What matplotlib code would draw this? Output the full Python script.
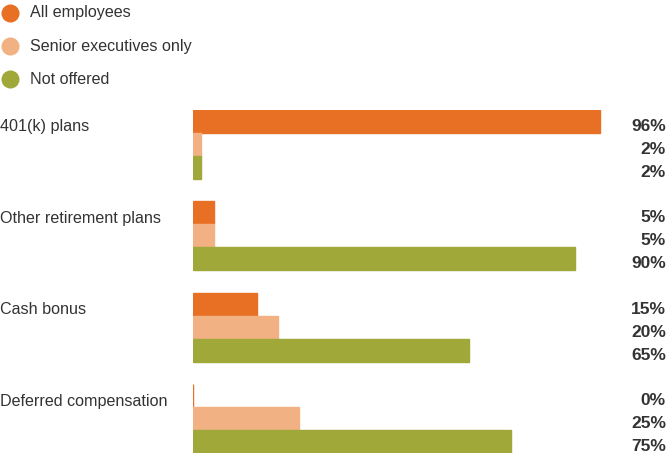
import matplotlib
matplotlib.use("Agg")
import matplotlib.pyplot as plt
from matplotlib.lines import Line2D
from matplotlib.transforms import blended_transform_factory

categories = ["401(k) plans", "Other retirement plans", "Cash bonus", "Deferred compensation"]
series_names = ["All employees", "Senior executives only", "Not offered"]
all_employees = [96, 5, 15, 0]
senior_only = [2, 5, 20, 25]
not_offered = [2, 90, 65, 75]

COLORS = ["#E87024", "#F2B183", "#A0A83A"]
INK = "#333333"

plt.rcParams["font.family"] = ["Liberation Sans", "DejaVu Sans"]

fig = plt.figure(figsize=(6.68, 4.54), dpi=100)
ax = fig.add_axes([193 / 668, 1 - 453 / 454, (617 - 193) / 668, (453 - 110) / 454])
label_tf = blended_transform_factory(fig.transFigure, ax.transData)

bar_h = 0.25
series = [all_employees, senior_only, not_offered]
for s, (vals, color) in enumerate(zip(series, COLORS)):
    ys = [i - bar_h + s * bar_h for i in range(len(categories))]
    ax.barh(ys, vals, height=bar_h, color=color, edgecolor=color, linewidth=1.0)
    for y, v in zip(ys, vals):
        ax.text(0.997, y + 0.055, f"{v}%", transform=label_tf,
                ha="right", va="center", fontsize=12.5, fontweight="bold", color=INK)

for i, cat in enumerate(categories):
    ax.text(0.0, i - bar_h + 0.06, cat, transform=label_tf,
            ha="left", va="center", fontsize=11.6, color=INK)

ax.set_xlim(0, 100)
ax.set_ylim(len(categories) - 0.625, -0.375)
ax.axis("off")

for k, (name, color) in enumerate(zip(series_names, COLORS)):
    y = 1 - (13 + 33 * k) / 454
    fig.add_artist(Line2D([10 / 668], [y], marker="o", markersize=13, color=color, markeredgewidth=0,
                          transform=fig.transFigure))
    fig.text(30 / 668, y, name, ha="left", va="center", fontsize=11.6, color=INK)

fig.savefig("out.png", dpi=100)
